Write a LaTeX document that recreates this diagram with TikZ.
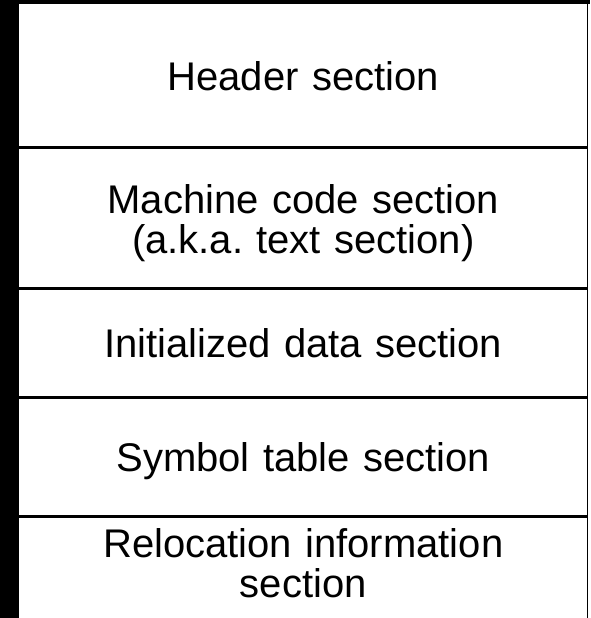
\documentclass[tikz,border=0pt]{standalone}
\usepackage{fontspec}
\setmainfont{Liberation Sans}
\usetikzlibrary{positioning}
\tikzset{sect/.style={minimum width=568.5pt, text width=550pt, align=center, inner sep=0pt, outer sep=0pt,
                      text height=29pt, text depth=0pt, font=\fontsize{40}{40}\selectfont\frenchspacing},
         rule/.style={line width=3pt, black}}

\begin{document}
\begin{tikzpicture}[x=1pt,y=-1pt]
\useasboundingbox (0,0) rectangle (590,618);
\clip (0,0) rectangle (590,618);
\fill[black] (0,0) rectangle (590,4);
\fill[black] (0,0) rectangle (19,618);
\node[sect, minimum height=143pt, anchor=north west] (hdr) at (19,4) {Header section};
\node[sect, minimum height=141.5pt, text depth=38pt, below=0pt of hdr] (code) {Machine code section\\(a.k.a. text section)};
\node[sect, minimum height=109pt, below=0pt of code] (data) {Initialized data section};
\node[sect, minimum height=119pt, below=0pt of data] (sym) {Symbol table section};
\node[sect, minimum height=119pt, text depth=67pt, below=0pt of sym] (reloc) {Relocation information\\section};
\draw[rule] (hdr.south west) -- (hdr.south east);
\draw[rule] (code.south west) -- (code.south east);
\draw[rule] (data.south west) -- (data.south east);
\draw[rule] (sym.south west) -- (sym.south east);
\draw[line width=1.5pt] (hdr.north east) -- (reloc.south east);
\end{tikzpicture}
\end{document}
